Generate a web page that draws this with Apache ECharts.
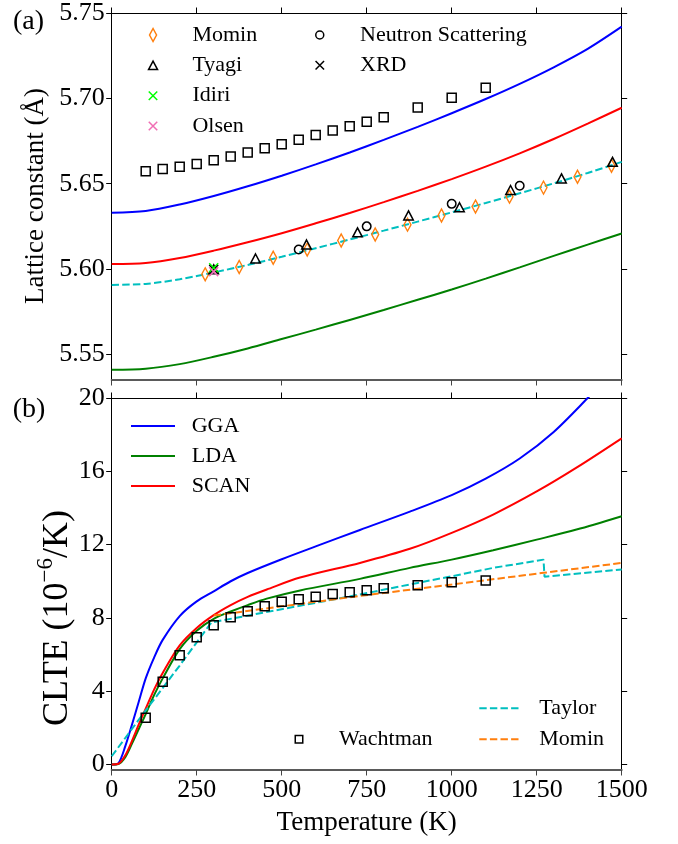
<!DOCTYPE html>
<html>
<head>
<meta charset="utf-8">
<script src="https://cdn.jsdelivr.net/npm/echarts@6/dist/echarts.min.js"></script>
<style>
  html, body { margin: 0; padding: 0; background: #fff; }
  #chart { width: 678px; height: 844px; }
</style>
</head>
<body>
<div id="chart"></div>
<script>
// ---------------- data ----------------
const tempTicks = [0, 250, 500, 750, 1000, 1250, 1500];
const latticeTicks = [5.55, 5.60, 5.65, 5.70, 5.75];
const clteTicks = [0, 4, 8, 12, 16, 20];

// (a) lattice constant vs temperature, [T (K), a (Å)]
const latticeGGA = [[0,5.6330],[100,5.6340],[200,5.6378],[300,5.6428],[400,5.6485],[500,5.6547],[600,5.6613],[700,5.6683],[800,5.6757],[900,5.6833],[1000,5.6913],[1100,5.6996],[1200,5.7085],[1300,5.7182],[1400,5.7290],[1500,5.7420]];
const latticeSCAN = [[0,5.6030],[100,5.6036],[200,5.6065],[300,5.6108],[400,5.6157],[500,5.6210],[600,5.6268],[700,5.6328],[800,5.6392],[900,5.6458],[1000,5.6527],[1100,5.6600],[1200,5.6678],[1300,5.6762],[1400,5.6852],[1500,5.6945]];
const latticeLDA = [[0,5.5410],[100,5.5416],[200,5.5443],[300,5.5486],[400,5.5535],[500,5.5590],[600,5.5645],[700,5.5702],[800,5.5760],[900,5.5820],[1000,5.5880],[1100,5.5944],[1200,5.6010],[1300,5.6077],[1400,5.6143],[1500,5.6208]];
const latticeTaylor = [[0,5.5907],[100,5.5913],[200,5.5940],[300,5.5980],[400,5.6024],[500,5.6072],[600,5.6122],[700,5.6173],[800,5.6225],[900,5.6278],[1000,5.6332],[1100,5.6387],[1200,5.6444],[1300,5.6502],[1400,5.6563],[1500,5.6628]];

const wachtmanT = [100,150,200,250,300,350,400,450,500,550,600,650,700,750,800,900,1000,1100];
const wachtmanLattice = [5.6573,5.6586,5.6600,5.6615,5.6638,5.6660,5.6683,5.6707,5.6731,5.6758,5.6785,5.6811,5.6837,5.6863,5.6890,5.6946,5.7004,5.7062];
const wachtmanCLTE = [2.55,4.51,5.96,6.95,7.60,8.04,8.36,8.64,8.88,9.02,9.15,9.31,9.40,9.51,9.62,9.78,9.95,10.04];

const mominT = [275,375,475,575,675,775,870,970,1070,1170,1270,1370,1470];
const mominLattice = [5.5969,5.6012,5.6066,5.6114,5.6167,5.6202,5.6260,5.6314,5.6366,5.6424,5.6477,5.6541,5.6605];

const tyagiT = [300,423,573,723,873,1023,1173,1323,1473];
const tyagiLattice = [5.5998,5.6062,5.6144,5.6215,5.6314,5.6362,5.6463,5.6531,5.6628];

const neutronT = [550,750,1000,1200];
const neutronLattice = [5.6114,5.6250,5.6382,5.6488];

const idiriPoint = [[300,5.6008]];
const olsenPoint = [[300,5.5985]];
const xrdPoint = [[300,5.5998]];

// (b) coefficient of linear thermal expansion, [T (K), CLTE (1e-6/K)]
const clteGGA = [[0,0],[20,0.08],[40,1.0],[60,2.2],[80,3.45],[100,4.7],[125,5.85],[150,6.8],[200,8.1],[250,8.9],[300,9.45],[350,10.0],[400,10.45],[500,11.2],[600,11.9],[730,12.8],[877,13.8],[1000,14.7],[1100,15.6],[1200,16.7],[1300,18.15],[1400,20.0],[1440,20.8]];
const clteSCAN = [[0,0],[20,0.04],[40,0.5],[60,1.3],[80,2.2],[100,3.05],[125,4.1],[150,5.0],[200,6.5],[250,7.45],[300,8.15],[350,8.7],[400,9.15],[456,9.55],[554,10.2],[730,11.0],[877,11.77],[1000,12.64],[1122,13.64],[1250,14.9],[1367,16.2],[1500,17.8]];
const clteLDA = [[0,0],[20,0.03],[40,0.4],[60,1.15],[80,1.95],[100,2.75],[125,3.8],[150,4.7],[200,6.3],[250,7.3],[300,7.95],[350,8.35],[400,8.7],[456,9.05],[554,9.5],[730,10.13],[877,10.73],[1000,11.18],[1122,11.69],[1250,12.27],[1367,12.82],[1500,13.55]];
const clteTaylor = [[0,0.45],[100,2.95],[200,5.4],[293,7.75],[730,9.28],[900,9.91],[1000,10.27],[1122,10.73],[1270,11.18],[1273,10.25],[1500,10.64]];
const clteMomin = [[300,8.13],[500,8.63],[730,9.2],[1000,9.82],[1270,10.46],[1500,11.0]];

// ---------------- helpers ----------------
const SERIF = 'Liberation Serif';
const COLORS = { gga: '#0000ff', lda: '#008000', scan: '#ff0000', taylor: '#00bfbf', momin: '#ff7f0e', idiri: '#00ff00', olsen: '#f06eb4', black: '#000000' };
const CROSS = 'path://M0,0L10,10M10,0L0,10';
const zip = (xs, ys) => xs.map((x, i) => [x, ys[i]]);

function curve(name, data, color, grid, opts) {
  opts = opts || {};
  return {
    name, type: 'line', data, xAxisIndex: grid * 2, yAxisIndex: grid * 2,
    symbol: 'none', smooth: opts.smooth === false ? false : 0.3,
    lineStyle: { color, width: 2, type: opts.dashed ? [7.4, 3.2] : 'solid' },
    itemStyle: { color }, z: 2, silent: true
  };
}
function markers(name, data, symbol, size, color, grid) {
  return {
    name, type: 'scatter', data, xAxisIndex: grid * 2, yAxisIndex: grid * 2,
    symbol, symbolSize: size,
    itemStyle: { color: 'rgba(0,0,0,0)', borderColor: color, borderWidth: 1.5, opacity: 1 },
    z: 3, silent: true
  };
}

const spineBlack = { show: true, onZero: false, lineStyle: { color: '#000', width: 1 } };
const spineBottom = { show: true, onZero: false, lineStyle: { color: '#5a5a5a', width: 2 } };
const tickStyle = (color) => ({ show: true, inside: false, length: 5.5, lineStyle: { color, width: 1 } });
const labelFont = { fontFamily: SERIF, fontSize: 26, color: '#000' };

function xAxes(grid, withLabels) {
  const common = { type: 'value', gridIndex: grid, min: 0, max: 1500, interval: 250, splitLine: { show: false } };
  return [
    Object.assign({}, common, {
      position: 'bottom', axisLine: spineBottom,
      axisTick: Object.assign(tickStyle('#444'), { customValues: tempTicks }),
      axisLabel: Object.assign({ show: withLabels, margin: 7, customValues: tempTicks, formatter: (v) => String(v) }, labelFont),
      name: withLabels ? 'Temperature (K)' : '', nameLocation: 'middle', nameGap: 39,
      nameTextStyle: { fontFamily: SERIF, fontSize: 27, color: '#000' }
    }),
    Object.assign({}, common, {
      position: 'top', axisLine: spineBlack,
      axisTick: Object.assign(tickStyle('#000'), { customValues: tempTicks }),
      axisLabel: { show: false }
    })
  ];
}
function yAxes(grid, min, max, ticks, fmt) {
  const common = { type: 'value', gridIndex: grid, min, max, splitLine: { show: false }, axisLine: spineBlack };
  return [
    Object.assign({}, common, {
      position: 'left',
      axisTick: Object.assign(tickStyle('#000'), { customValues: ticks }),
      axisLabel: Object.assign({ show: true, margin: 7, customValues: ticks, formatter: fmt }, labelFont)
    }),
    Object.assign({}, common, {
      position: 'right',
      axisTick: Object.assign(tickStyle('#000'), { customValues: ticks }),
      axisLabel: { show: false }
    })
  ];
}

const legendText = { fontFamily: SERIF, fontSize: 22, color: '#000', lineHeight: 26 };
function legendAt(names, left, top, w, h, gap, textPad, lineOnly) {
  return {
    show: true, selectedMode: false, orient: 'vertical', padding: 0,
    data: names, left, top, itemWidth: w, itemHeight: h, itemGap: gap,
    itemStyle: lineOnly ? { opacity: 0 } : { borderWidth: 1.5 },
    textStyle: Object.assign({}, legendText, { padding: [0, 0, 0, textPad] }),
    formatter: (n) => n.replace(' CLTE', '')
  };
}

// ---------------- chart ----------------
const chart = echarts.init(document.getElementById('chart'), null, { renderer: 'canvas', width: 678, height: 844 });

const option = {
  animation: false,
  backgroundColor: '#ffffff',
  textStyle: { fontFamily: SERIF },
  grid: [
    { left: 111.7, top: 8, width: 510, height: 372, containLabel: false },
    { left: 111.7, top: 398, width: 510, height: 372, containLabel: false }
  ],
  xAxis: [].concat(xAxes(0, false), xAxes(1, true)),
  yAxis: [].concat(
    yAxes(0, 5.535, 5.75, latticeTicks, (v) => v.toFixed(2)),
    yAxes(1, -0.3, 20, clteTicks, (v) => String(Math.round(v)))
  ),
  legend: [
    legendAt(['Momin'], 148.8, 22, 7, 13, 4, 30.9),
    legendAt(['Tyagi'], 147.8, 52.3, 9, 8.5, 4, 29.9),
    legendAt(['Idiri'], 148, 82.7, 8.5, 8.5, 4, 30.2),
    legendAt(['Olsen'], 148, 113, 8.5, 8.5, 4, 30.2),
    legendAt(['Neutron Scattering'], 315, 22, 8, 8, 4, 31.3),
    legendAt(['XRD'], 314.8, 52.3, 8.5, 8.5, 4, 31),
    legendAt(['GGA', 'LDA', 'SCAN'], 130, 413, 44, 10, 4, 11.7, true),
    legendAt(['Taylor', 'Momin CLTE'], 478.3, 695.3, 42, 10, 5, 13, true),
    legendAt(['Wachtman'], 294.5, 726.3, 7.5, 7.5, 4, 31.3)
  ],
  graphic: [
    { type: 'text', x: 28.5, y: 21.5, silent: true,
      style: { text: '(a)', fontFamily: SERIF, fontSize: 28, fill: '#000', align: 'center', verticalAlign: 'middle' } },
    { type: 'text', x: 29, y: 410, silent: true,
      style: { text: '(b)', fontFamily: SERIF, fontSize: 28, fill: '#000', align: 'center', verticalAlign: 'middle' } },
    { type: 'text', x: 36, y: 196, rotation: Math.PI / 2, silent: true,
      style: { text: 'Lattice constant (Å)', fontFamily: SERIF, fontSize: 27, fill: '#000', align: 'center', verticalAlign: 'middle' } },
    { type: 'text', x: 58, y: 618, rotation: Math.PI / 2, silent: true,
      style: {
        text: '{m|CLTE (10}{s|−6}{m|/K)}', fill: '#000', align: 'center', verticalAlign: 'middle',
        rich: {
          m: { fontFamily: SERIF, fontSize: 36, lineHeight: 48, fill: '#000' },
          s: { fontFamily: SERIF, fontSize: 23, lineHeight: 20, verticalAlign: 'top', fill: '#000' }
        }
      } }
  ],
  series: [
    // (a)
    curve('GGA lattice', latticeGGA, COLORS.gga, 0),
    curve('SCAN lattice', latticeSCAN, COLORS.scan, 0),
    curve('LDA lattice', latticeLDA, COLORS.lda, 0),
    curve('Taylor lattice', latticeTaylor, COLORS.taylor, 0, { dashed: true }),
    markers('Wachtman lattice', zip(wachtmanT, wachtmanLattice), 'rect', 9, COLORS.black, 0),
    markers('Momin', zip(mominT, mominLattice), 'diamond', [7, 13], COLORS.momin, 0),
    markers('Tyagi', zip(tyagiT, tyagiLattice), 'triangle', [9.5, 9], COLORS.black, 0),
    markers('Neutron Scattering', zip(neutronT, neutronLattice), 'circle', 8.5, COLORS.black, 0),
    markers('XRD', xrdPoint, CROSS, 9, COLORS.black, 0),
    markers('Idiri', idiriPoint, CROSS, 9, COLORS.idiri, 0),
    markers('Olsen', olsenPoint, CROSS, 9, COLORS.olsen, 0),
    // (b)
    curve('GGA', clteGGA, COLORS.gga, 1),
    curve('LDA', clteLDA, COLORS.lda, 1),
    curve('SCAN', clteSCAN, COLORS.scan, 1),
    curve('Taylor', clteTaylor, COLORS.taylor, 1, { dashed: true, smooth: false }),
    curve('Momin CLTE', clteMomin, COLORS.momin, 1, { dashed: true, smooth: false }),
    markers('Wachtman', zip(wachtmanT, wachtmanCLTE), 'rect', 9, COLORS.black, 1)
  ]
};

chart.setOption(option);
</script>
</body>
</html>
